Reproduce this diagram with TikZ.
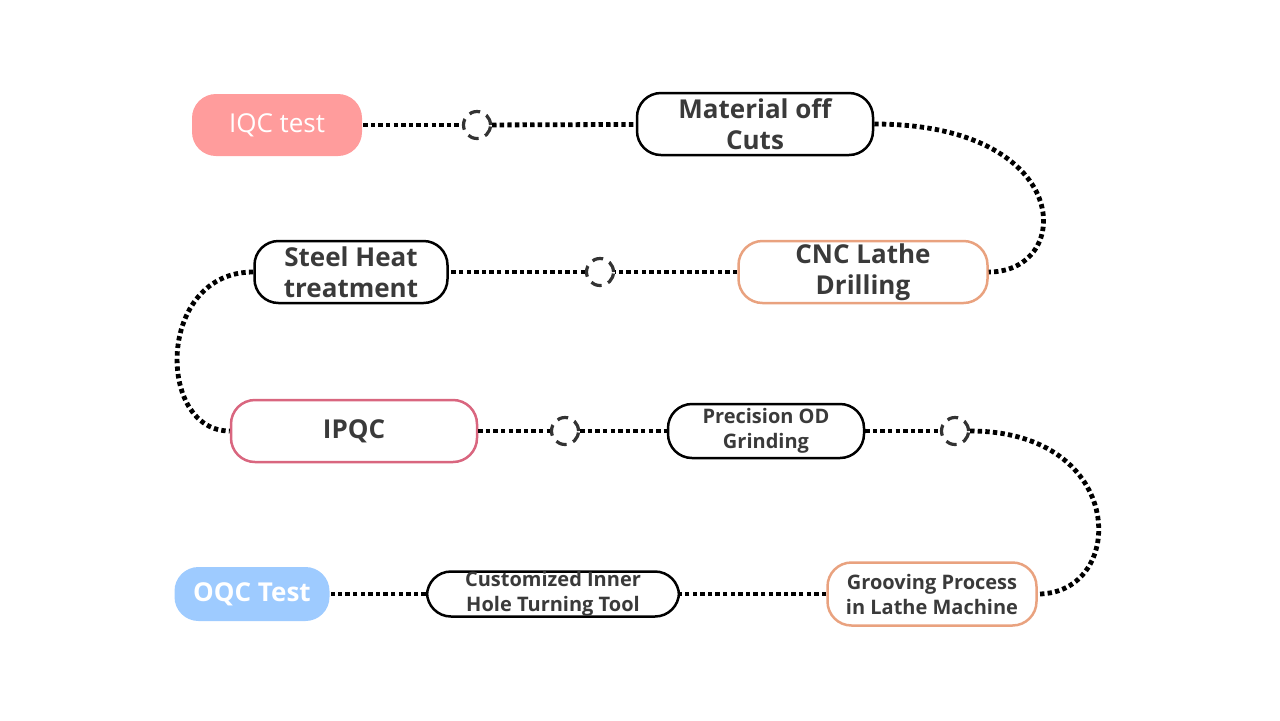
\documentclass[tikz,border=0pt]{standalone}
\usepackage{fontspec}
\setmainfont{Open Sans}
\usetikzlibrary{positioning}
\definecolor{txtgray}{HTML}{3A3A3A}
\definecolor{ringgray}{HTML}{333333}
\definecolor{iqcpink}{HTML}{FF9C9C}
\definecolor{oqcblue}{HTML}{9ECBFF}
\definecolor{lineorange}{HTML}{E9A27F}
\definecolor{linerose}{HTML}{D9667F}
\begin{document}
\begin{tikzpicture}[x=0.5pt, y=-0.5pt,
    stage/.style={rectangle, rounded corners=12pt, draw=black, line width=1.25pt,
        text=txtgray, align=center, inner sep=0pt,
        font=\bfseries\fontsize{13}{15.5}\selectfont},
    small/.style={font=\bfseries\fontsize{10}{12.5}\selectfont},
    hole/.style={circle, draw=ringgray, line width=1.6pt,
        dash pattern=on 5.5pt off 3.5pt, minimum size=13.5pt, inner sep=0pt},
    link/.style={line width=2.4pt, dash pattern=on 2.2pt off 1.6pt}]
    \useasboundingbox (0,0) rectangle (1280,720);

    \node (iqc) [stage, draw=none, fill=iqcpink, text=white, font=\fontsize{13}{15.5}\selectfont,
        minimum width=85pt, minimum height=31pt] at (277,125) {IQC test};
    \node (c1) [hole] at (477,125) {};
    \node (mat) [stage, minimum width=118pt, minimum height=31pt] at (755,124) {Material off\\Cuts};
    \node (cnc) [stage, draw=lineorange, minimum width=124.5pt, minimum height=31pt] at (863,272) {CNC Lathe\\Drilling};
    \node (c2) [hole] at (600,272) {};
    \node (steel) [stage, minimum width=96.5pt, minimum height=31pt] at (351,272) {Steel Heat\\treatment};
    \node (ipqc) [stage, draw=linerose, minimum width=123pt, minimum height=31pt] at (354,431) {IPQC};
    \node (c3) [hole] at (565,431) {};
    \node (odg) [stage, small, minimum width=98pt, minimum height=27pt] at (766,431) {Precision OD\\Grinding};
    \node (c4) [hole] at (955,431) {};
    \node (groove) [stage, small, draw=lineorange, minimum width=104.5pt, minimum height=31.5pt] at (932,594) {Grooving Process\\in Lathe Machine};
    \node (tool) [stage, small, minimum width=126pt, minimum height=22.5pt] at (553,594) {\raisebox{-2pt}{Customized Inner}\\\raisebox{-2pt}{Hole Turning Tool}};
    \node (oqc) [stage, draw=none, fill=oqcblue, text=white,
        minimum width=77.5pt, minimum height=27pt] at (252,594) {OQC Test};

    \draw [link] (iqc) -- (c1);
    \draw [link] (c1) -- (mat);
    \draw [link] (mat.east) .. controls (1075,124) and (1075,272) .. (cnc.east);
    \draw [link] (cnc) -- (c2);
    \draw [link] (c2) -- (steel);
    \draw [link] (steel.west) .. controls (156,272) and (156,431) .. (ipqc.west);
    \draw [link] (ipqc) -- (c3);
    \draw [link] (c3) -- (odg);
    \draw [link] (odg) -- (c4);
    \draw [link] (c4.east) .. controls (1128,431) and (1128,594) .. (groove.east);
    \draw [link] (groove) -- (tool);
    \draw [link] (tool) -- (oqc);
\end{tikzpicture}
\end{document}
